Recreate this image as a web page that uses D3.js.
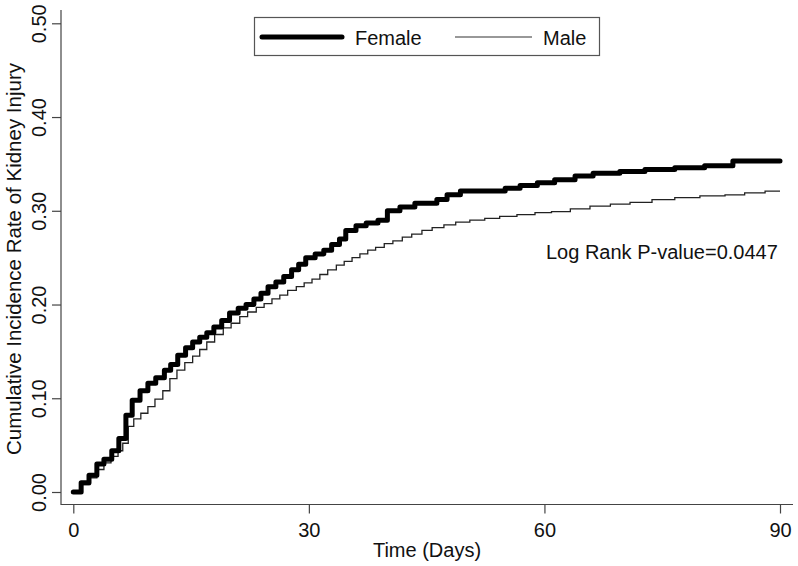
<!DOCTYPE html>
<html><head><meta charset="utf-8">
<script src="https://cdn.jsdelivr.net/npm/d3@7"></script>
<style>body{margin:0;background:#fff}text{font-family:"Liberation Sans",Arial,sans-serif;fill:#111}</style>
</head><body><svg id="c" width="798" height="566"></svg>
<script>
const femaleTime = [0,1.0,2.0,3.0,3.9,4.9,5.8,6.7,7.5,8.5,9.5,10.5,11.6,12.4,13.3,14.3,15.2,16.1,17.0,17.9,18.9,19.9,21.0,22.0,23.0,23.9,24.8,25.8,26.8,27.8,28.7,29.6,30.8,31.9,32.9,33.9,34.7,36.0,37.3,38.8,40.0,41.6,43.5,46.3,47.6,49.3,55.0,56.9,59.1,61.3,63.9,66.2,69.6,72.8,76.6,80.4,84.0,90];
const femaleRate = [0,0.010,0.018,0.030,0.035,0.044,0.057,0.082,0.098,0.108,0.116,0.122,0.130,0.136,0.146,0.154,0.160,0.165,0.170,0.176,0.183,0.191,0.196,0.200,0.206,0.212,0.219,0.224,0.230,0.237,0.243,0.250,0.254,0.258,0.264,0.270,0.279,0.284,0.287,0.290,0.300,0.304,0.308,0.312,0.317,0.321,0.324,0.327,0.330,0.333,0.337,0.340,0.342,0.344,0.346,0.348,0.353,0.353];
const maleTime = [0,1.1,2.1,3.0,3.9,4.8,5.7,6.3,7.0,7.7,8.6,9.5,10.4,11.4,12.3,13.2,14.2,15.2,16.1,17.0,18.0,19.1,20.1,21.2,22.2,23.3,24.3,25.3,26.3,27.3,28.4,29.4,30.4,31.4,32.4,33.5,34.5,35.5,36.5,37.5,38.5,39.6,40.7,41.9,43.1,44.4,45.7,47.2,48.7,50.5,52.4,54.3,56.5,58.8,60.9,63.3,65.8,68.4,70.9,73.7,76.6,79.8,83.0,85.5,88.1,90];
const maleRate = [0,0.008,0.015,0.024,0.031,0.038,0.044,0.052,0.070,0.078,0.084,0.091,0.099,0.108,0.121,0.130,0.138,0.145,0.152,0.160,0.168,0.175,0.180,0.187,0.192,0.197,0.201,0.206,0.210,0.215,0.219,0.223,0.227,0.232,0.237,0.242,0.246,0.250,0.254,0.258,0.261,0.265,0.268,0.272,0.275,0.279,0.282,0.285,0.288,0.290,0.292,0.294,0.296,0.298,0.299,0.302,0.305,0.307,0.309,0.312,0.314,0.316,0.317,0.319,0.321,0.321];
const xTicks = [0,30,60,90];
const yTicks = [0,0.1,0.2,0.3,0.4,0.5];
const seriesNames = ["Female","Male"];

const svg = d3.select("#c");
const x = d3.scaleLinear().domain([0,90]).range([73.3,780]);
const y = d3.scaleLinear().domain([0,0.5]).range([492,23.3]);
const axisCol = "#444";

// L box
svg.append("path").attr("d","M61,10V504.5H793").attr("fill","none").attr("stroke",axisCol).attr("stroke-width",1.2);

const gy = svg.append("g").attr("transform","translate(61,0)")
  .call(d3.axisLeft(y).tickValues(yTicks).tickSize(9).tickFormat(d3.format(".2f")));
gy.select(".domain").remove();
gy.selectAll(".tick line").attr("stroke",axisCol).attr("stroke-width",1.2);
gy.selectAll(".tick text").attr("transform","rotate(-90)").attr("x",0).attr("y",-15).attr("dy",0)
  .attr("text-anchor","middle").style("font-size","20px").style("font-family","Liberation Sans, Arial, sans-serif").attr("fill","#111");

const gx = svg.append("g").attr("transform","translate(0,504.5)")
  .call(d3.axisBottom(x).tickValues(xTicks).tickSize(9).tickPadding(9).tickFormat(d3.format("d")));
gx.select(".domain").remove();
gx.selectAll(".tick line").attr("stroke",axisCol).attr("stroke-width",1.2);
gx.selectAll(".tick text").style("font-size","20px").style("font-family","Liberation Sans, Arial, sans-serif").attr("fill","#111");

svg.append("text").attr("transform","translate(21,259) rotate(-90)").attr("text-anchor","middle")
  .style("font-size","20.5px").text("Cumulative Incidence Rate of Kidney Injury");
svg.append("text").attr("x",427).attr("y",557).attr("text-anchor","middle")
  .style("font-size","20px").text("Time (Days)");

const line = d3.line().x(d=>x(d[0])).y(d=>y(d[1])).curve(d3.curveStepAfter);
svg.append("path").datum(d3.zip(maleTime,maleRate)).attr("d",line)
  .attr("fill","none").attr("stroke","#222").attr("stroke-width",1.3);
svg.append("path").datum(d3.zip(femaleTime,femaleRate)).attr("d",line)
  .attr("fill","none").attr("stroke","#000").attr("stroke-width",5).attr("stroke-linejoin","round").attr("stroke-linecap","round");

// legend
svg.append("rect").attr("x",254.5).attr("y",17.5).attr("width",345).attr("height",38)
  .attr("fill","#fff").attr("stroke","#555").attr("stroke-width",1.2);
svg.append("line").attr("x1",262).attr("x2",342).attr("y1",37).attr("y2",37)
  .attr("stroke","#000").attr("stroke-width",5).attr("stroke-linecap","round");
svg.append("text").attr("x",355).attr("y",45).style("font-size","20px").text(seriesNames[0]);
svg.append("line").attr("x1",455).attr("x2",532).attr("y1",37).attr("y2",37)
  .attr("stroke","#333").attr("stroke-width",1.2);
svg.append("text").attr("x",543).attr("y",45).style("font-size","20px").text(seriesNames[1]);

svg.append("text").attr("x",546).attr("y",259).style("font-size","20px").text("Log Rank P-value=0.0447");
</script></body></html>
